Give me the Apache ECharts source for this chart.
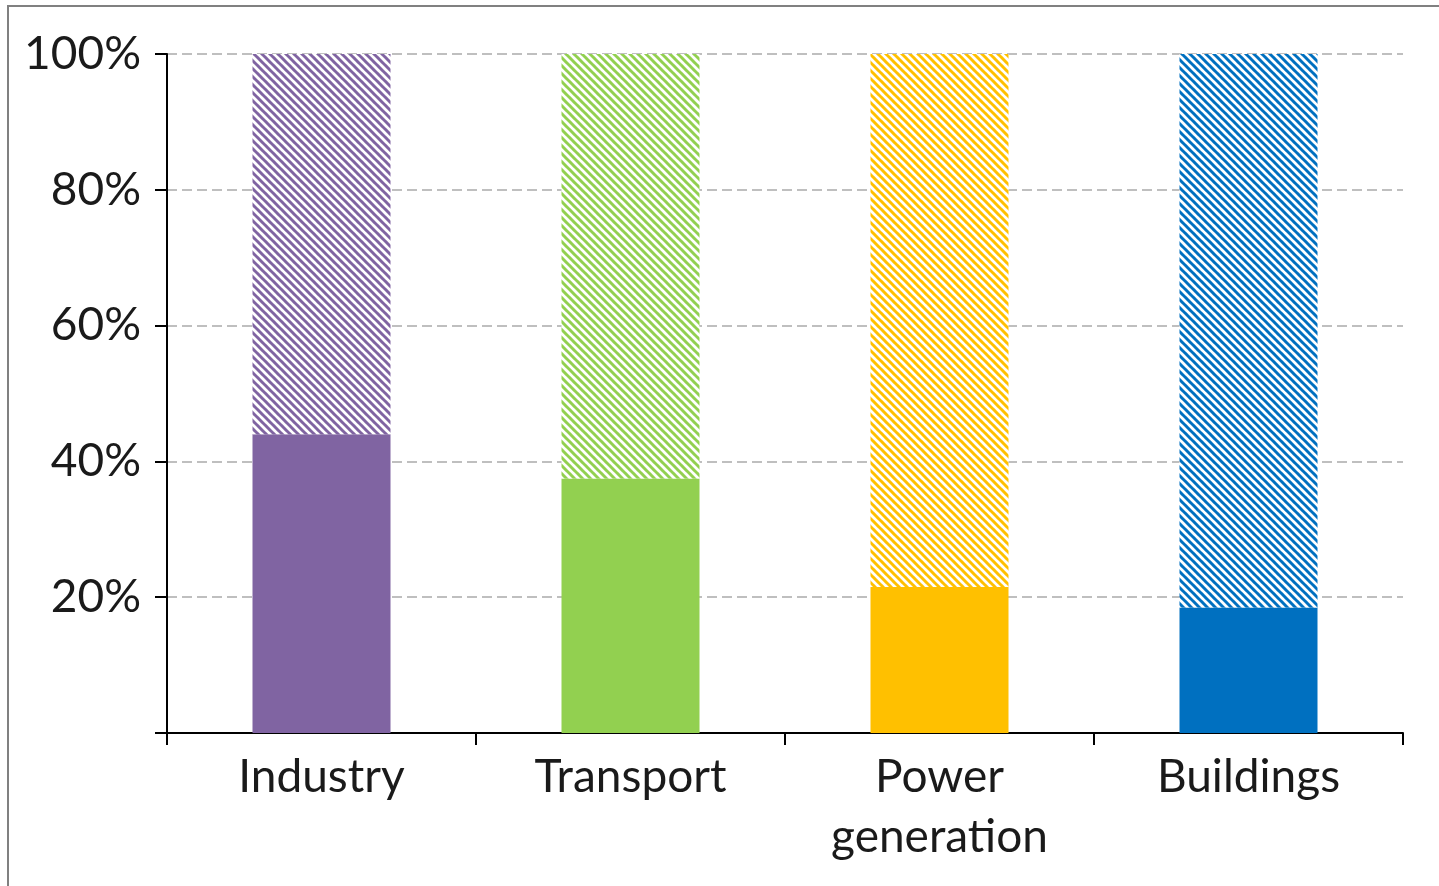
<!DOCTYPE html>
<html><head><meta charset="utf-8">
<script src="https://cdn.jsdelivr.net/npm/echarts@6/dist/echarts.min.js"></script>
<style>html,body{margin:0;padding:0;background:#fff;}#c{width:1439px;height:886px;}</style>
</head><body><div id="c"></div>
<script>
// Data
const categories = ['Industry', 'Transport', 'Power\ngeneration', 'Buildings'];
const solidShare = [44, 37.5, 21.5, 18.5];
const hatchedShare = [56, 62.5, 78.5, 81.5];
const colors = ['#8064a2', '#92d050', '#ffc000', '#0070c0'];
const yTicks = [0, 20, 40, 60, 80, 100];

function hatch(color) {
  const s = 8;
  const cv = document.createElement('canvas');
  cv.width = s; cv.height = s;
  const ctx = cv.getContext('2d');
  ctx.fillStyle = '#ffffff';
  ctx.fillRect(0, 0, s, s);
  ctx.strokeStyle = color;
  ctx.lineWidth = 3;
  for (let k = -1; k <= 1; k++) {
    ctx.beginPath();
    ctx.moveTo(k * s - 1, -1);
    ctx.lineTo(k * s + s + 1, s + 1);
    ctx.stroke();
  }
  return { image: cv, repeat: 'repeat' };
}

const chart = echarts.init(document.getElementById('c'));
const font = 'Lato, "Open Sans", sans-serif';
chart.setOption({
  animation: false,
  backgroundColor: '#fff',
  graphic: [{
    type: 'rect', silent: true, z: 100,
    shape: { x: 8, y: 6, width: 1600, height: 1000 },
    style: { fill: 'none', stroke: '#808080', lineWidth: 2 }
  }],
  grid: { left: 167, right: 36, top: 54, bottom: 153, containLabel: false },
  xAxis: {
    type: 'category',
    data: categories,
    axisLine: { lineStyle: { color: '#000', width: 2 } },
    axisTick: { show: true, length: 12, lineStyle: { color: '#000', width: 2 } },
    axisLabel: { color: '#1a1a1a', fontFamily: font, fontSize: 46, margin: 14, lineHeight: 60 }
  },
  yAxis: {
    type: 'value', min: yTicks[0], max: yTicks[yTicks.length - 1], interval: 20,
    axisLine: { show: true, lineStyle: { color: '#000', width: 2 } },
    axisTick: { show: true, length: 12, lineStyle: { color: '#000', width: 2 } },
    axisLabel: {
      color: '#1a1a1a', fontFamily: font, fontSize: 46, margin: 26,
      formatter: v => (v === 0 ? '' : v + '%')
    },
    splitLine: { show: true, lineStyle: { color: '#bfbfbf', width: 2, type: [10, 5] } }
  },
  series: [
    {
      type: 'bar', stack: 's', barWidth: 138,
      data: solidShare.map((v, i) => ({ value: v, itemStyle: { color: colors[i] } }))
    },
    {
      type: 'bar', stack: 's', barWidth: 138,
      data: hatchedShare.map((v, i) => ({ value: v, itemStyle: { color: hatch(colors[i]) } }))
    }
  ]
});
</script></body></html>
